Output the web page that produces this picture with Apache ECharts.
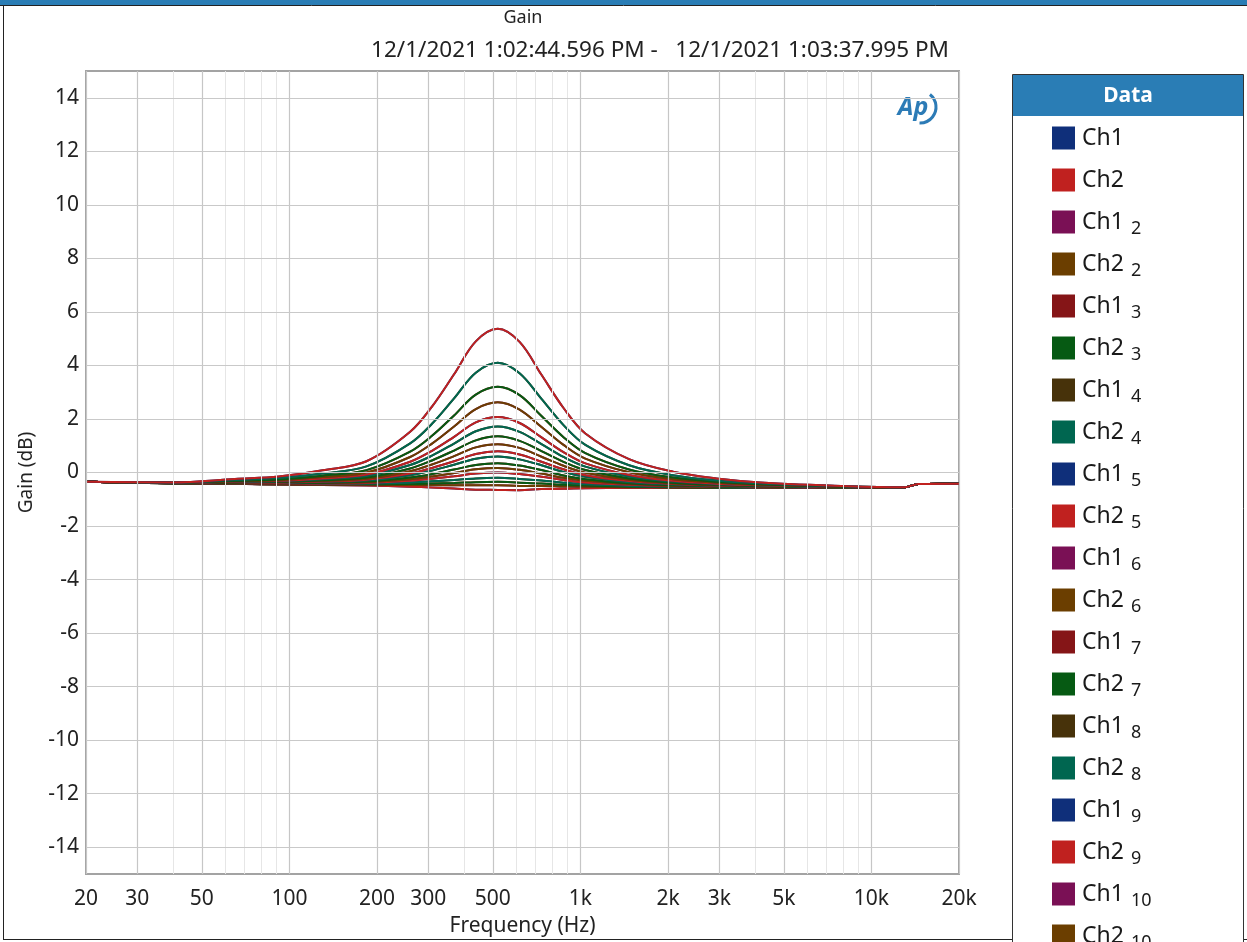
<!DOCTYPE html>
<html><head><meta charset="utf-8">
<script src="https://cdn.jsdelivr.net/npm/echarts@6/dist/echarts.min.js"></script>
<style>html,body{margin:0;padding:0;background:#fff}#c{width:1247px;height:942px}</style>
</head><body><div id="c"></div><script>
// ---- data ----
const freqs = [20, 40, 65, 92, 130, 184, 260, 309, 368, 437, 520, 618, 735, 875, 1040, 1470, 2080, 2940, 4160, 8300, 13000, 14500, 20000];
const curve01 = [-0.35,-0.40,-0.42,-0.45,-0.47,-0.49,-0.53,-0.56,-0.60,-0.64,-0.65,-0.66,-0.62,-0.61,-0.59,-0.58,-0.58,-0.58,-0.57,-0.57,-0.55,-0.43,-0.42];
const curve02 = [-0.35,-0.40,-0.42,-0.44,-0.45,-0.46,-0.47,-0.47,-0.48,-0.48,-0.48,-0.50,-0.50,-0.52,-0.53,-0.55,-0.56,-0.57,-0.57,-0.57,-0.55,-0.43,-0.42];
const curve03 = [-0.35,-0.40,-0.42,-0.44,-0.44,-0.44,-0.43,-0.41,-0.39,-0.36,-0.35,-0.38,-0.41,-0.46,-0.49,-0.53,-0.55,-0.56,-0.56,-0.57,-0.55,-0.43,-0.42];
const curve04 = [-0.35,-0.40,-0.41,-0.43,-0.43,-0.42,-0.38,-0.33,-0.28,-0.22,-0.20,-0.24,-0.30,-0.38,-0.44,-0.50,-0.53,-0.55,-0.56,-0.57,-0.55,-0.43,-0.42];
const curve05 = [-0.35,-0.40,-0.41,-0.42,-0.41,-0.39,-0.31,-0.23,-0.14,-0.04,0.00,-0.06,-0.16,-0.28,-0.37,-0.46,-0.51,-0.54,-0.55,-0.57,-0.55,-0.43,-0.42];
const curve06 = [-0.35,-0.40,-0.40,-0.41,-0.39,-0.36,-0.25,-0.15,-0.02,0.12,0.17,0.10,-0.04,-0.20,-0.31,-0.43,-0.50,-0.53,-0.55,-0.56,-0.55,-0.43,-0.42];
const curve07 = [-0.35,-0.40,-0.40,-0.40,-0.38,-0.34,-0.19,-0.06,0.11,0.28,0.35,0.26,0.09,-0.11,-0.25,-0.40,-0.48,-0.52,-0.54,-0.56,-0.55,-0.43,-0.42];
const curve08 = [-0.35,-0.40,-0.39,-0.39,-0.35,-0.30,-0.10,0.07,0.29,0.51,0.60,0.49,0.27,0.02,-0.16,-0.36,-0.45,-0.51,-0.53,-0.56,-0.55,-0.43,-0.42];
const curve09 = [-0.35,-0.39,-0.38,-0.38,-0.34,-0.27,-0.04,0.17,0.42,0.69,0.79,0.67,0.40,0.12,-0.10,-0.32,-0.43,-0.49,-0.53,-0.56,-0.55,-0.43,-0.42];
const curve10 = [-0.35,-0.39,-0.37,-0.36,-0.31,-0.23,0.05,0.30,0.61,0.94,1.06,0.92,0.59,0.25,-0.01,-0.27,-0.41,-0.48,-0.52,-0.56,-0.55,-0.43,-0.42];
const curve11 = [-0.35,-0.39,-0.37,-0.35,-0.29,-0.19,0.15,0.45,0.82,1.20,1.35,1.18,0.80,0.40,0.09,-0.22,-0.38,-0.46,-0.51,-0.55,-0.55,-0.43,-0.42];
const curve12 = [-0.35,-0.39,-0.35,-0.33,-0.25,-0.13,0.28,0.63,1.08,1.54,1.72,1.52,1.06,0.58,0.22,-0.15,-0.34,-0.44,-0.49,-0.55,-0.55,-0.43,-0.42];
const curve13 = [-0.35,-0.39,-0.34,-0.31,-0.22,-0.08,0.40,0.81,1.33,1.87,2.07,1.85,1.31,0.76,0.34,-0.09,-0.31,-0.42,-0.48,-0.54,-0.55,-0.43,-0.42];
const curve14 = [-0.35,-0.38,-0.33,-0.29,-0.17,0.00,0.58,1.08,1.72,2.37,2.62,2.35,1.70,1.03,0.52,0.01,-0.25,-0.38,-0.46,-0.54,-0.55,-0.43,-0.42];
const curve15 = [-0.35,-0.38,-0.31,-0.26,-0.12,0.09,0.78,1.37,2.13,2.91,3.20,2.89,2.11,1.32,0.72,0.11,-0.19,-0.35,-0.44,-0.53,-0.55,-0.43,-0.42];
const curve16 = [-0.35,-0.38,-0.28,-0.21,-0.04,0.23,1.09,1.82,2.77,3.73,4.10,3.71,2.75,1.77,1.03,0.27,-0.10,-0.30,-0.41,-0.52,-0.55,-0.43,-0.42];
const curve17 = [-0.35,-0.37,-0.24,-0.15,0.08,0.42,1.52,2.46,3.67,4.90,5.37,4.88,3.65,2.41,1.46,0.50,0.03,-0.22,-0.37,-0.51,-0.55,-0.43,-0.42];
const curves = [curve01,curve02,curve03,curve04,curve05,curve06,curve07,curve08,curve09,curve10,curve11,curve12,curve13,curve14,curve15,curve16,curve17];
const palette = ['#0F2F7A','#C0211F','#7A1055','#6B3E00','#851517','#065A13','#47320A','#006650'];
const xMajorTicks = [20,30,50,100,200,300,500,1000,2000,3000,5000,10000,20000];
const xMajorLabels = ['20','30','50','100','200','300','500','1k','2k','3k','5k','10k','20k'];
const xMinorTicks = [40,60,70,80,90,400,600,700,800,900,4000,6000,7000,8000,9000];
const yTicks = [-14,-12,-10,-8,-6,-4,-2,0,2,4,6,8,10,12,14];

const FONT = "'Noto Sans', 'DejaVu Sans', sans-serif";
const chart = echarts.init(document.getElementById('c'), null, {renderer:'canvas'});

const series = [];
const legendNames = [];
const gridMarks = [];
xMajorTicks.forEach((v,i)=>gridMarks.push({xAxis:v, lineStyle:{color:'#C6C6C6', width:1.2, type:'solid'},
  label:{show:true, position:'start', formatter:xMajorLabels[i], distance:15, fontSize:21, color:'#222', fontFamily:FONT}}));
xMinorTicks.forEach(v=>gridMarks.push({xAxis:v, lineStyle:{color:'#E6E6E6', width:1, type:'solid'}, label:{show:false}}));
yTicks.forEach(v=>gridMarks.push({yAxis:v, lineStyle:{color:'#C9C9C9', width:1.2, type:'solid'}, label:{show:false}}));
series.push({type:'line', name:'grid', data:[], z:1, silent:true,
  markLine:{silent:true, symbol:['none','none'], animation:false, data:gridMarks}});

curves.forEach((c,k)=>{
  ['Ch1','Ch2'].forEach((ch,j)=>{
    const name = k===0 ? ch : ch+' '+(k+1);
    legendNames.push(name);
    series.push({type:'line', name:name, data:freqs.map((f,i)=>[f,c[i]]), showSymbol:false, smooth:0.35,
      z:2, color:palette[(2*k+j)%8], lineStyle:{width:2, color:palette[(2*k+j)%8]}});
  });
});

chart.setOption({
  animation:false,
  backgroundColor:'#fff',
  grid:{left:86, right:288, top:71, bottom:64, show:true, borderColor:'#A3A3A3', borderWidth:2, backgroundColor:'#fff'},
  xAxis:{type:'log', logBase:10, min:20, max:20000, axisLabel:{show:false}, axisTick:{show:false}, axisLine:{show:false}, splitLine:{show:false}, minorSplitLine:{show:false},
    name:'Frequency (Hz)', nameLocation:'middle', nameGap:42, nameTextStyle:{fontSize:21, color:'#222', fontFamily:FONT}},
  yAxis:{type:'value', min:-15, max:15, axisLine:{show:false}, axisTick:{show:false}, splitLine:{show:false},
    axisLabel:{customValues:yTicks, fontSize:21, color:'#222', margin:7, fontFamily:FONT},
    name:'Gain (dB)', nameLocation:'middle', nameGap:50, nameTextStyle:{fontSize:19, color:'#222', fontFamily:FONT}},
  legend:{type:'plain', orient:'vertical', left:1047, top:117, height:1600, itemWidth:23, itemHeight:23, itemGap:10, icon:'rect',
    data:legendNames, selectedMode:false,
    formatter:n=>{const p=n.split(' '); return p.length>1?('{a|'+p[0]+'}{b|'+p[1]+'}'):('{a|'+n+'}{b|\u00a0}');},
    textStyle:{rich:{a:{fontSize:23, lineHeight:30, color:'#1a1a1a', fontFamily:FONT, padding:[0,0,0,2]},
                     b:{fontSize:18, lineHeight:20, color:'#1a1a1a', fontFamily:FONT, padding:[14,0,0,7]}}}},
  graphic:[
    {type:'rect', z:0, shape:{x:0,y:0,width:1247,height:5}, style:{fill:'#2A7DB5'}},
    {type:'line', z:0, shape:{x1:0,y1:5.5,x2:1247,y2:5.5}, style:{stroke:'#222', lineWidth:1}},
    {type:'line', z:0, shape:{x1:3.5,y1:5,x2:3.5,y2:939}, style:{stroke:'#222', lineWidth:1}},
    {type:'line', z:0, shape:{x1:3,y1:939.5,x2:1247,y2:939.5}, style:{stroke:'#222', lineWidth:1}},
    {type:'text', z:1, x:523, y:18, style:{text:'Gain', font:'18px '+FONT, fill:'#222', align:'center', verticalAlign:'middle'}},
    {type:'text', z:1, x:660, y:51, style:{text:'12/1/2021 1:02:44.596 PM -   12/1/2021 1:03:37.995 PM', font:'22.5px '+FONT, fill:'#222', align:'center', verticalAlign:'middle'}},
    {type:'rect', z:0, shape:{x:1012.5,y:74.5,width:231,height:900}, style:{fill:'#fff', stroke:'#333', lineWidth:1}},
    {type:'rect', z:0, shape:{x:1013,y:75,width:230,height:41}, style:{fill:'#2A7DB5'}},
    {type:'text', z:1, x:1128, y:96, style:{text:'Data', font:'bold 21px '+FONT, fill:'#fff', align:'center', verticalAlign:'middle'}},
    {type:'arc', z:5, shape:{cx:920, cy:107, r:16, startAngle:-0.9, endAngle:1.6}, style:{stroke:'#2C7BB6', lineWidth:3, fill:null}},
    {type:'text', z:5, x:913, y:108, style:{text:'Ap', font:'italic bold 25px '+FONT, fill:'#2C7BB6', align:'center', verticalAlign:'middle'}}
  ],
  series:series
});
</script></body></html>
